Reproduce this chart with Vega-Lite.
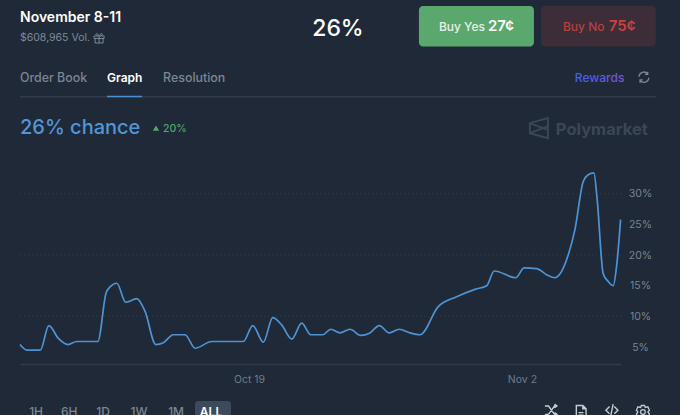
{"$schema":"https://vega.github.io/schema/vega-lite/v6.json","width":601,"height":204,"autosize":"none","padding":{"left":20,"top":160,"right":59,"bottom":51},"background":"#1f2937","config":{"view":{"stroke":null},"font":"Inter","text":{"baseline":"alphabetic"}},
"datasets":{"series":[
{"date":"2024-10-07T06:00Z","pct":5.4},{"date":"2024-10-07T14:30Z","pct":4.5},{"date":"2024-10-08T07:00Z","pct":4.5},{"date":"2024-10-08T17:30Z","pct":8.5},{"date":"2024-10-09T05:18Z","pct":6.4},{"date":"2024-10-09T16:54Z","pct":5.4},{"date":"2024-10-10T03:54Z","pct":5.9},{"date":"2024-10-11T05:48Z","pct":5.9},{"date":"2024-10-11T16:00Z","pct":13.8},{"date":"2024-10-11T20:54Z","pct":14.8},{"date":"2024-10-12T05:12Z","pct":15.4},{"date":"2024-10-12T16:12Z","pct":12.3},{"date":"2024-10-13T05:48Z","pct":12.9},{"date":"2024-10-13T16:00Z","pct":10.8},{"date":"2024-10-14T05:12Z","pct":5.4},{"date":"2024-10-14T14:30Z","pct":5.7},{"date":"2024-10-15T02:48Z","pct":7.0},{"date":"2024-10-15T17:12Z","pct":7.0},{"date":"2024-10-16T05:30Z","pct":4.8},{"date":"2024-10-17T02:06Z","pct":5.9},{"date":"2024-10-18T17:00Z","pct":5.9},{"date":"2024-10-19T04:36Z","pct":8.5},{"date":"2024-10-19T17:36Z","pct":5.8},{"date":"2024-10-20T05:12Z","pct":9.8},{"date":"2024-10-20T16:12Z","pct":8.6},{"date":"2024-10-21T04:36Z","pct":6.3},{"date":"2024-10-21T16:54Z","pct":8.9},{"date":"2024-10-22T03:54Z","pct":7.0},{"date":"2024-10-22T18:42Z","pct":7.0},{"date":"2024-10-23T04:36Z","pct":7.9},{"date":"2024-10-23T16:00Z","pct":7.3},{"date":"2024-10-24T04:18Z","pct":7.9},{"date":"2024-10-24T17:30Z","pct":6.9},{"date":"2024-10-25T04:54Z","pct":7.3},{"date":"2024-10-25T16:24Z","pct":8.5},{"date":"2024-10-26T04:42Z","pct":7.3},{"date":"2024-10-26T17:00Z","pct":7.9},{"date":"2024-10-27T06:12Z","pct":7.3},{"date":"2024-10-27T18:30Z","pct":7.0},{"date":"2024-10-28T17:00Z","pct":11.6},{"date":"2024-10-29T15:36Z","pct":13.2},{"date":"2024-10-30T14:12Z","pct":14.4},{"date":"2024-10-31T04:36Z","pct":15.0},{"date":"2024-10-31T13:54Z","pct":17.4},{"date":"2024-11-01T16:18Z","pct":16.3},{"date":"2024-11-02T02:48Z","pct":17.9},{"date":"2024-11-02T18:06Z","pct":17.8},{"date":"2024-11-03T06:24Z","pct":16.8},{"date":"2024-11-03T16:36Z","pct":16.3},{"date":"2024-11-03T22:48Z","pct":16.9},{"date":"2024-11-04T09:00Z","pct":20.0},{"date":"2024-11-04T17:12Z","pct":24.1},{"date":"2024-11-05T03:30Z","pct":32.0},{"date":"2024-11-05T09:36Z","pct":33.1},{"date":"2024-11-05T16:36Z","pct":33.4},{"date":"2024-11-05T20:42Z","pct":29.0},{"date":"2024-11-06T04:00Z","pct":17.0},{"date":"2024-11-06T10:12Z","pct":15.7},{"date":"2024-11-06T16:24Z","pct":15.0},{"date":"2024-11-06T20:30Z","pct":18.1},{"date":"2024-11-07T01:30Z","pct":25.8}],
"grid":[{"pct":10},{"pct":20},{"pct":30}]},
"layer":[
{"data":{"name":"grid"},"mark":{"type":"rule","color":"#343f4e","strokeDash":[1,3],"strokeWidth":1},"encoding":{"y":{"field":"pct","type":"quantitative"}}},
{"data":{"name":"series"},"mark":{"type":"line","color":"#4e94d4","strokeWidth":1.7,"interpolate":"monotone"},"encoding":{
"x":{"field":"date","type":"temporal","scale":{"domain":[{"year":2024,"month":10,"date":7,"hours":6,"utc":true},{"year":2024,"month":11,"date":7,"hours":2,"utc":true}],"nice":false},"axis":{"title":null,"values":[{"year":2024,"month":10,"date":19,"utc":true},{"year":2024,"month":11,"date":2,"utc":true}],"labelExpr":"utcFormat(datum.value,'%b %-d')","ticks":false,"grid":false,"domainColor":"#303c4b","domainWidth":1.5,"labelColor":"#6f7b88","labelFontSize":10.5,"labelPadding":10,"labelFlush":false,"labelOverlap":false}},
"y":{"field":"pct","type":"quantitative","scale":{"domain":[2.23,35.5],"nice":false,"zero":false},"axis":{"title":null,"orient":"right","values":[5,10,15,20,25,30],"labelExpr":"datum.value+'%'","ticks":false,"domain":false,"grid":false,"labelColor":"#7a8591","labelFontSize":10.5,"labelAlign":"center","labelPadding":19}}}},
{"data":{"values":[{}]},"layer":[
{"mark":{"type":"rect","fill":"#5aa86d","cornerRadius":4},"encoding":{"x":{"datum":{"year":2024,"month":10,"date":27,"hours":17,"minutes":12,"utc":true},"type":"temporal"},"x2":{"datum":{"year":2024,"month":11,"date":2,"hours":14,"minutes":48,"utc":true}},"y":{"datum":60.6,"type":"quantitative"},"y2":{"datum":54.0}}},
{"mark":{"type":"rect","fill":"#3c2d39","cornerRadius":4},"encoding":{"x":{"datum":{"year":2024,"month":11,"date":2,"hours":23,"minutes":24,"utc":true},"type":"temporal"},"x2":{"datum":{"year":2024,"month":11,"date":8,"hours":20,"minutes":54,"utc":true}},"y":{"datum":60.6,"type":"quantitative"},"y2":{"datum":54.0}}},
{"mark":{"type":"rect","fill":"#3d4a5c","cornerRadius":3},"encoding":{"x":{"datum":{"year":2024,"month":10,"date":16,"hours":5,"minutes":30,"utc":true},"type":"temporal"},"x2":{"datum":{"year":2024,"month":10,"date":18,"hours":1,"minutes":48,"utc":true}},"y":{"datum":-3.8,"type":"quantitative"},"y2":{"datum":-7}}},
{"mark":{"type":"rule","color":"#3a4756","strokeWidth":1},"encoding":{"x":{"datum":{"year":2024,"month":10,"date":7,"hours":6,"utc":true},"type":"temporal"},"x2":{"datum":{"year":2024,"month":11,"date":8,"hours":20,"minutes":54,"utc":true}},"y":{"datum":45.8,"type":"quantitative"}}},
{"mark":{"type":"rule","color":"#4a90d0","strokeWidth":1.5},"encoding":{"x":{"datum":{"year":2024,"month":10,"date":11,"hours":17,"minutes":12,"utc":true},"type":"temporal"},"x2":{"datum":{"year":2024,"month":10,"date":13,"hours":12,"minutes":18,"utc":true}},"y":{"datum":45.85,"type":"quantitative"}}},
{"mark":{"type":"text","text":"November 8-11","align":"left","color":"#ffffff","fontSize":14,"fontWeight":600},"encoding":{"x":{"datum":{"year":2024,"month":10,"date":7,"hours":6,"utc":true},"type":"temporal"},"y":{"datum":58.0,"type":"quantitative"}}},
{"mark":{"type":"text","text":"$608,965 Vol.","align":"left","color":"#7d8a99","fontSize":10.5},"encoding":{"x":{"datum":{"year":2024,"month":10,"date":7,"hours":6,"utc":true},"type":"temporal"},"y":{"datum":54.9,"type":"quantitative"}}},
{"mark":{"type":"text","text":"26%","align":"center","color":"#ffffff","fontSize":23,"fontWeight":500},"encoding":{"x":{"datum":{"year":2024,"month":10,"date":23,"hours":13,"minutes":30,"utc":true},"type":"temporal"},"y":{"datum":55.7,"type":"quantitative"}}},
{"mark":{"type":"text","text":"Buy Yes","align":"left","color":"#e6f2e9","fontSize":12,"fontWeight":500},"encoding":{"x":{"datum":{"year":2024,"month":10,"date":28,"hours":17,"minutes":48,"utc":true},"type":"temporal"},"y":{"datum":56.5,"type":"quantitative"}}},
{"mark":{"type":"text","text":"27¢","align":"left","color":"#ffffff","fontSize":15,"fontWeight":600},"encoding":{"x":{"datum":{"year":2024,"month":10,"date":31,"hours":6,"minutes":12,"utc":true},"type":"temporal"},"y":{"datum":56.5,"type":"quantitative"}}},
{"mark":{"type":"text","text":"Buy No","align":"left","color":"#b5413f","fontSize":12,"fontWeight":500},"encoding":{"x":{"datum":{"year":2024,"month":11,"date":4,"hours":2,"minutes":30,"utc":true},"type":"temporal"},"y":{"datum":56.5,"type":"quantitative"}}},
{"mark":{"type":"text","text":"75¢","align":"left","color":"#c8423f","fontSize":15,"fontWeight":600},"encoding":{"x":{"datum":{"year":2024,"month":11,"date":6,"hours":11,"utc":true},"type":"temporal"},"y":{"datum":56.5,"type":"quantitative"}}},
{"mark":{"type":"text","text":"Order Book","align":"left","color":"#7b8794","fontSize":12.4,"fontWeight":500},"encoding":{"x":{"datum":{"year":2024,"month":10,"date":7,"hours":6,"utc":true},"type":"temporal"},"y":{"datum":48.2,"type":"quantitative"}}},
{"mark":{"type":"text","text":"Graph","align":"left","color":"#ffffff","fontSize":12,"fontWeight":600},"encoding":{"x":{"datum":{"year":2024,"month":10,"date":11,"hours":17,"minutes":12,"utc":true},"type":"temporal"},"y":{"datum":48.2,"type":"quantitative"}}},
{"mark":{"type":"text","text":"Resolution","align":"left","color":"#7b8794","fontSize":12.4,"fontWeight":500},"encoding":{"x":{"datum":{"year":2024,"month":10,"date":14,"hours":14,"minutes":12,"utc":true},"type":"temporal"},"y":{"datum":48.2,"type":"quantitative"}}},
{"mark":{"type":"text","text":"Rewards","align":"left","fontSize":12,"fontWeight":500,"color":{"x1":0,"x2":1,"y1":0,"y2":0,"gradient":"linear","stops":[{"offset":0,"color":"#3f63e0"},{"offset":1,"color":"#7a55d8"}]}},"encoding":{"x":{"datum":{"year":2024,"month":11,"date":4,"hours":17,"minutes":12,"utc":true},"type":"temporal"},"y":{"datum":48.2,"type":"quantitative"}}},
{"mark":{"type":"text","text":"26% chance","align":"left","color":"#4f97d6","fontSize":20,"fontWeight":500},"encoding":{"x":{"datum":{"year":2024,"month":10,"date":7,"hours":6,"utc":true},"type":"temporal"},"y":{"datum":39.7,"type":"quantitative"}}},
{"mark":{"type":"text","text":"20%","align":"left","color":"#4fa866","fontSize":10.5,"fontWeight":500},"encoding":{"x":{"datum":{"year":2024,"month":10,"date":14,"hours":14,"minutes":12,"utc":true},"type":"temporal"},"y":{"datum":40.1,"type":"quantitative"}}},
{"mark":{"type":"point","shape":"triangle-up","filled":true,"color":"#4fa866","size":40,"opacity":1},"encoding":{"x":{"datum":{"year":2024,"month":10,"date":14,"hours":5,"minutes":30,"utc":true},"type":"temporal"},"y":{"datum":40.7,"type":"quantitative"}}},
{"mark":{"type":"text","text":"Polymarket","align":"left","color":"#3b4755","fontSize":16.5,"fontWeight":700},"encoding":{"x":{"datum":{"year":2024,"month":11,"date":3,"hours":17,"minutes":48,"utc":true},"type":"temporal"},"y":{"datum":39.6,"type":"quantitative"}}},
{"mark":{"type":"point","shape":"M-0.45,-0.25L0.45,-0.5V0.5L-0.45,0.25ZM-0.45,-0.25L0.45,0.1M-0.45,0.25L0.45,-0.1","filled":false,"color":"#3b4755","strokeWidth":2,"size":1600,"opacity":1},"encoding":{"x":{"datum":{"year":2024,"month":11,"date":2,"hours":20,"minutes":54,"utc":true},"type":"temporal"},"y":{"datum":40.7,"type":"quantitative"}}},
{"mark":{"type":"point","shape":"M-0.5,-0.2H0.5V0.05H-0.5ZM-0.4,0.05V0.5H0.4V0.05M0,-0.2V0.5M0,-0.2C-0.2,-0.6 -0.5,-0.4 -0.2,-0.2M0,-0.2C0.2,-0.6 0.5,-0.4 0.2,-0.2","filled":false,"color":"#7d8a99","strokeWidth":1,"size":400,"opacity":1},"encoding":{"x":{"datum":{"year":2024,"month":10,"date":11,"hours":7,"minutes":24,"utc":true},"type":"temporal"},"y":{"datum":55.4,"type":"quantitative"}}},
{"mark":{"type":"point","shape":"M-0.45,-0.05A0.45,0.45 0 0 1 0.35,-0.3M0.45,0.05A0.45,0.45 0 0 1 -0.35,0.3M0.35,-0.5V-0.25H0.1M-0.35,0.5V0.25H-0.1","filled":false,"color":"#7b8794","strokeWidth":1.3,"size":484,"opacity":1},"encoding":{"x":{"datum":{"year":2024,"month":11,"date":8,"hours":6,"minutes":12,"utc":true},"type":"temporal"},"y":{"datum":49.0,"type":"quantitative"}}},
{"mark":{"type":"text","text":"1H","align":"center","color":"#7b8794","fontSize":12,"fontWeight":500},"encoding":{"x":{"datum":{"year":2024,"month":10,"date":8,"hours":1,"minutes":48,"utc":true},"type":"temporal"},"y":{"datum":-6.3,"type":"quantitative"}}},
{"mark":{"type":"text","text":"6H","align":"center","color":"#7b8794","fontSize":12,"fontWeight":500},"encoding":{"x":{"datum":{"year":2024,"month":10,"date":9,"hours":18,"minutes":30,"utc":true},"type":"temporal"},"y":{"datum":-6.3,"type":"quantitative"}}},
{"mark":{"type":"text","text":"1D","align":"center","color":"#7b8794","fontSize":12,"fontWeight":500},"encoding":{"x":{"datum":{"year":2024,"month":10,"date":11,"hours":12,"minutes":18,"utc":true},"type":"temporal"},"y":{"datum":-6.3,"type":"quantitative"}}},
{"mark":{"type":"text","text":"1W","align":"center","color":"#7b8794","fontSize":12,"fontWeight":500},"encoding":{"x":{"datum":{"year":2024,"month":10,"date":13,"hours":8,"minutes":36,"utc":true},"type":"temporal"},"y":{"datum":-6.3,"type":"quantitative"}}},
{"mark":{"type":"text","text":"1M","align":"center","color":"#7b8794","fontSize":12,"fontWeight":500},"encoding":{"x":{"datum":{"year":2024,"month":10,"date":15,"hours":6,"minutes":12,"utc":true},"type":"temporal"},"y":{"datum":-6.3,"type":"quantitative"}}},
{"mark":{"type":"text","text":"ALL","align":"center","color":"#ffffff","fontSize":12,"fontWeight":600},"encoding":{"x":{"datum":{"year":2024,"month":10,"date":17,"hours":1,"minutes":12,"utc":true},"type":"temporal"},"y":{"datum":-6.3,"type":"quantitative"}}},
{"mark":{"type":"point","shape":"M-0.5,-0.35H-0.2L0.3,0.35H0.5M-0.5,0.35H-0.2L0.3,-0.35H0.5M0.3,-0.5L0.5,-0.35 0.3,-0.2M0.3,0.2L0.5,0.35 0.3,0.5","filled":false,"color":"#c5ccd4","strokeWidth":1.4,"size":576,"opacity":1},"encoding":{"x":{"datum":{"year":2024,"month":11,"date":3,"hours":11,"minutes":42,"utc":true},"type":"temporal"},"y":{"datum":-5.3,"type":"quantitative"}}},
{"mark":{"type":"point","shape":"M-0.35,-0.5H0.15L0.4,-0.25V0.5H-0.35ZM0.15,-0.5V-0.25H0.4M-0.18,0.05H0.2M-0.18,0.25H0.2","filled":false,"color":"#c5ccd4","strokeWidth":1.4,"size":676,"opacity":1},"encoding":{"x":{"datum":{"year":2024,"month":11,"date":5,"minutes":36,"utc":true},"type":"temporal"},"y":{"datum":-5.6,"type":"quantitative"}}},
{"mark":{"type":"point","shape":"M-0.2,-0.3L-0.5,0L-0.2,0.3M0.2,-0.3L0.5,0L0.2,0.3M0.1,-0.5L-0.1,0.5","filled":false,"color":"#c5ccd4","strokeWidth":1.4,"size":576,"opacity":1},"encoding":{"x":{"datum":{"year":2024,"month":11,"date":6,"hours":14,"minutes":48,"utc":true},"type":"temporal"},"y":{"datum":-5.3,"type":"quantitative"}}},
{"mark":{"type":"point","shape":"M0.18,0A0.18,0.18 0 1 1 -0.18,0A0.18,0.18 0 1 1 0.18,0ZM-0.12,-0.5H0.12L0.18,-0.35L0.38,-0.4L0.5,-0.15L0.38,0L0.5,0.15L0.38,0.4L0.18,0.35L0.12,0.5H-0.12L-0.18,0.35L-0.38,0.4L-0.5,0.15L-0.38,0L-0.5,-0.15L-0.38,-0.4L-0.18,-0.35Z","filled":false,"color":"#c5ccd4","strokeWidth":1.3,"size":676,"opacity":1},"encoding":{"x":{"datum":{"year":2024,"month":11,"date":8,"hours":5,"utc":true},"type":"temporal"},"y":{"datum":-5.6,"type":"quantitative"}}}
]}
]}
